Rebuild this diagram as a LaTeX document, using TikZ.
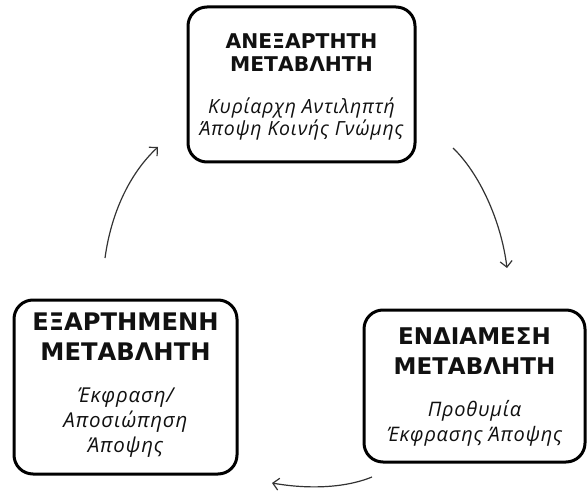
\documentclass[tikz,border=0pt]{standalone}
\usepackage{fontspec}
\setmainfont{Open Sans}
\newfontfamily\headfont{DejaVu Sans}[BoldFont={DejaVu Sans Bold}]
\newfontfamily\subfont{Open Sans}[LetterSpace=4]
\usetikzlibrary{arrows.meta,calc}
\definecolor{ink}{HTML}{111111}
\definecolor{arr}{HTML}{333333}
\tikzset{
  varbox/.style={draw=black,line width=3pt,rounded corners=19pt,fill=white,inner sep=0pt},
  headtxt/.style={text=ink,align=center,inner sep=0pt,font=\headfont\bfseries},
  subtxt/.style={text=ink,align=center,inner sep=0pt,font=\subfont\itshape},
  flow/.style={draw=arr,line width=1.2pt,-{Straight Barb[length=6pt,width=12pt,line width=1.2pt]}}
}
\begin{document}
\begin{tikzpicture}[x=1pt,y=-1pt]
\useasboundingbox (0,0) rectangle (588,494);
% boxes
\node[varbox,minimum width=227pt,minimum height=155pt] (T) at (301.5,84.5) {};
\node[varbox,minimum width=223pt,minimum height=174pt] (L) at (125.5,387) {};
\node[varbox,minimum width=221pt,minimum height=152pt] (R) at (474.5,386) {};
% texts
\node[headtxt,font=\headfont\bfseries\fontsize{20.3}{23}\selectfont] (Th) at ($(T.center)+(0,-32)$) {ΑΝΕΞΑΡΤΗΤΗ\\ΜΕΤΑΒΛΗΤΗ};
\node[subtxt,font=\subfont\itshape\fontsize{19.5}{22}\selectfont] (Ts) at ($(T.center)+(0,34)$) {Κυρίαρχη Αντιληπτή\\Άποψη Κοινής Γνώμης};
\node[headtxt,font=\headfont\bfseries\fontsize{24.2}{30}\selectfont] (Lh) at ($(L.center)+(0,-50)$) {ΕΞΑΡΤΗΜΕΝΗ\\ΜΕΤΑΒΛΗΤΗ};
\node[subtxt,font=\subfont\itshape\fontsize{20.5}{25}\selectfont] (Ls) at ($(L.center)+(0,36)$) {Έκφραση/\\Αποσιώπηση\\Άποψης};
\node[headtxt,font=\headfont\bfseries\fontsize{23}{30}\selectfont] (Rh) at ($(R.center)+(0,-35)$) {ΕΝΔΙΑΜΕΣΗ\\ΜΕΤΑΒΛΗΤΗ};
\node[subtxt,font=\subfont\itshape\fontsize{20}{25}\selectfont] (Rs) at ($(R.center)+(0,37)$) {Προθυμία\\Έκφρασης Άποψης};
% arrow end points
\coordinate (a1s) at (105,258);
\coordinate (a1e) at (158,147);
\coordinate (a2s) at (453,148);
\coordinate (a2e) at (507,268);
\coordinate (a3s) at (372,477);
\coordinate (a3e) at (272,483);
\draw[flow] (a1s) .. controls (111,214) and (129,174) .. (a1e);
\draw[flow] (a2s) .. controls (479,173) and (501,220) .. (a2e);
\draw[flow] (a3s) .. controls (340,490) and (300,488) .. (a3e);
\end{tikzpicture}
\end{document}
